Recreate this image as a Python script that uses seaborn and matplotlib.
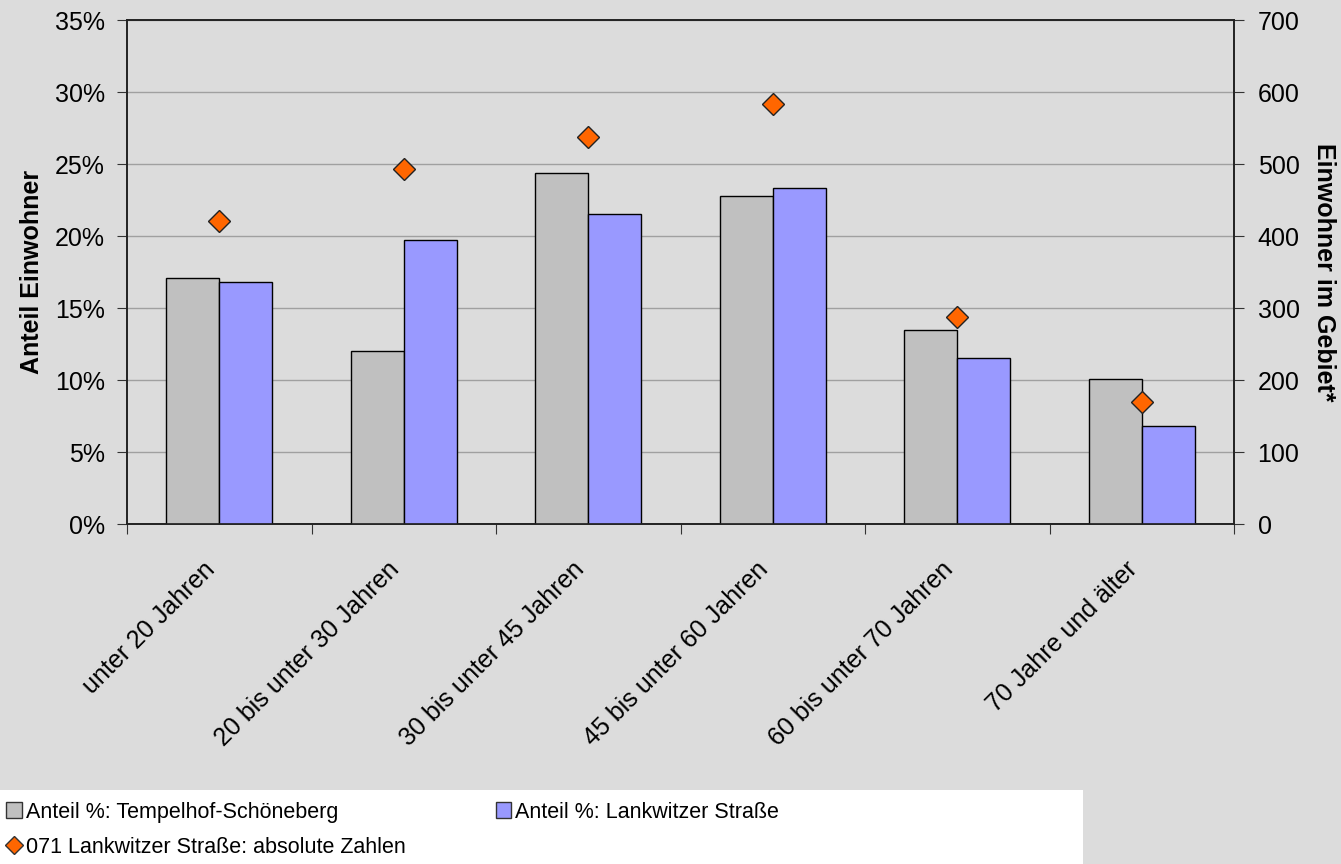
import numpy as np
import pandas as pd
import matplotlib.pyplot as plt
import seaborn as sns
from matplotlib.patches import Patch, Rectangle
from matplotlib.lines import Line2D
from matplotlib.ticker import PercentFormatter

# data
categories = ['unter 20 Jahren', '20 bis unter 30 Jahren', '30 bis unter 45 Jahren',
              '45 bis unter 60 Jahren', '60 bis unter 70 Jahren', '70 Jahre und älter']
anteil_ts = [17.1, 12.0, 24.4, 22.8, 13.5, 10.1]
anteil_lw = [16.8, 19.7, 21.5, 23.3, 11.5, 6.8]
absolut_lw = [421, 493, 537, 583, 288, 170]

series_names = ['Anteil %: Tempelhof-Schöneberg', 'Anteil %: Lankwitzer Straße']
diamond_name = '071 Lankwitzer Straße: absolute Zahlen'

bg = '#DCDCDC'
col_grey = '#C0C0C0'
col_blue = '#9999FF'
col_orange = '#FF6600'

sns.set_style('white')
plt.rcParams['font.family'] = ['Liberation Sans', 'DejaVu Sans']
plt.rcParams['text.color'] = 'black'
plt.rcParams['axes.labelcolor'] = 'black'
plt.rcParams['xtick.color'] = '#333333'
plt.rcParams['ytick.color'] = '#333333'
plt.rcParams['xtick.labelcolor'] = 'black'
plt.rcParams['ytick.labelcolor'] = 'black'

df = pd.DataFrame({
    'Altersgruppe': categories * 2,
    'Anteil': anteil_ts + anteil_lw,
    'Serie': [series_names[0]] * 6 + [series_names[1]] * 6,
})

fig = plt.figure(figsize=(13.41, 8.64), dpi=100, facecolor=bg)
ax = fig.add_axes([127 / 1341, 1 - 524 / 864, (1234 - 127) / 1341, (524 - 20) / 864])
ax.set_facecolor(bg)

sns.barplot(data=df, x='Altersgruppe', y='Anteil', hue='Serie', order=categories,
            palette=[col_grey, col_blue], saturation=1, edgecolor='black', linewidth=1.0,
            width=0.575, ax=ax, legend=False, zorder=3)

ax.set_ylim(0, 35)
ax.set_xlim(-0.5, len(categories) - 0.5)
ax.set_yticks(np.arange(0, 36, 5))
ax.yaxis.set_major_formatter(PercentFormatter(decimals=0))
ax.grid(axis='y', color='#A0A0A0', linewidth=1.0, zorder=0)
ax.set_axisbelow(True)

# ticks between groups, labels slightly left of group centres (like Excel)
pos = np.arange(len(categories))
ax.set_xticks(np.arange(-0.5, len(categories), 1.0))
ax.set_xticklabels([])
ax.set_xticks(pos - 0.09, minor=True)
ax.set_xticklabels(categories, minor=True, rotation=45, ha='right',
                   rotation_mode='anchor', fontsize=18)
ax.tick_params(axis='x', which='major', direction='out', length=7, bottom=True)
ax.tick_params(axis='x', which='minor', length=0, pad=24)
ax.tick_params(axis='y', direction='out', length=7, left=True, labelsize=18, pad=9)
ax.set_xlabel('')
ax.set_ylabel('Anteil Einwohner', fontsize=18, fontweight='bold', labelpad=8)
for s in ax.spines.values():
    s.set_color('#222222')
    s.set_linewidth(1.2)

ax2 = ax.twinx()
ax2.set_ylim(0, 700)
ax2.set_yticks(np.arange(0, 701, 100))
ax2.plot(pos, absolut_lw, linestyle='none', marker='D', markersize=11,
         markerfacecolor=col_orange, markeredgecolor='#222222', markeredgewidth=1.0, zorder=5)
ax2.tick_params(axis='y', direction='out', length=7, right=True, labelsize=18, pad=10)
ax2.set_ylabel('Einwohner im Gebiet*', fontsize=18, fontweight='bold', rotation=-90, labelpad=26)
for s in ax2.spines.values():
    s.set_color('#222222')
    s.set_linewidth(1.2)

# legend on a white band at the bottom
fig.patches.append(Rectangle((0, 0), 1083 / 1341, 74 / 864, transform=fig.transFigure,
                             facecolor='white', edgecolor='none', zorder=0))
handles = [Patch(facecolor=col_grey, edgecolor='#333333', label=series_names[0]),
           Line2D([], [], linestyle='none', marker='D', markersize=9, markerfacecolor=col_orange,
                  markeredgecolor='#333333', label=diamond_name),
           Patch(facecolor=col_blue, edgecolor='#333333', label=series_names[1])]
fig.legend(handles=handles, ncol=2, loc='lower left', bbox_to_anchor=(0, 0),
           bbox_transform=fig.transFigure, frameon=False, fontsize=15.5,
           handlelength=0.7, handleheight=0.7, handletextpad=0.2,
           columnspacing=4.2, labelspacing=0.65, borderaxespad=0.1, borderpad=0.2)

fig.savefig('out.png', dpi=100, facecolor=bg)
